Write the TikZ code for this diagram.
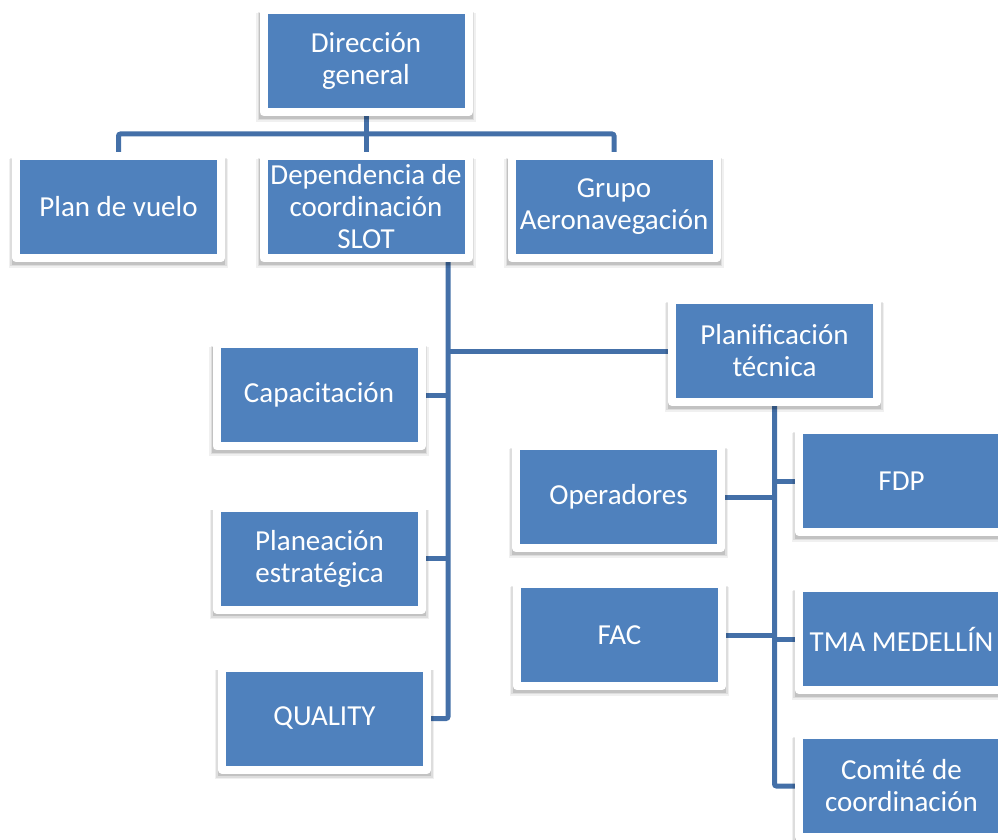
\documentclass[tikz,border=0pt]{standalone}
\usepackage{fontspec}
\setmainfont{Carlito}
\usetikzlibrary{shadows,backgrounds}

\definecolor{boxblue}{HTML}{4F81BD}
\definecolor{linkblue}{HTML}{4470A8}

\tikzset{
  unit/.style={draw=white, line width=8pt, line join=round, fill=boxblue,
    minimum width=205pt, minimum height=102pt, inner sep=0pt,
    text=white, align=center, font=\fontsize{29}{32}\selectfont,
    general shadow={shadow scale=1.07, shadow yshift=-6pt, opacity=0.06, fill=black},
    general shadow={shadow scale=1.055, shadow yshift=-5pt, opacity=0.08, fill=black},
    general shadow={shadow scale=1.04, shadow yshift=-4.5pt, opacity=0.12, fill=black}},
  link/.style={draw=linkblue, line width=5pt, rounded corners=2pt}
}

\begin{document}
\begin{tikzpicture}[x=1pt,y=-1pt]
        \useasboundingbox (0,0) rectangle (998,840);

        % top level
        \node[unit] (dir) at (366,61) {Dirección\\general};

        % second level
        \node[unit] (plan) at (118.5,207) {Plan de vuelo};
        \node[unit] (dep) at (366,207) {Dependencia de\\coordinación\\SLOT};
        \node[unit] (grp) at (614,207) {Grupo\\Aeronavegación};

        % under dependencia
        \node[unit] (plani) at (774.5,351) {Planificación\\técnica};
        \node[unit] (capa) at (319,395) {Capacitación};
        \node[unit] (plane) at (319.5,558.5) {Planeación\\estratégica};
        \node[unit] (qual) at (324.5,718.5) {QUALITY};

        % under planificacion
        \node[unit] (oper) at (618.5,497) {Operadores};
        \node[unit] (fac) at (619.5,635) {FAC};
        \node[unit] (fdp) at (901.5,481) {FDP};
        \node[unit] (tma) at (901.5,639) {TMA MEDELLÍN};
        \node[unit] (comite) at (901.5,786) {Comité de\\coordinación};

        % spines
        \coordinate (topbus) at (366,134);
        \coordinate (spine1) at (448,0);

        \begin{pgfonlayer}{background}
        % top lines
        \draw[link] (dir.south) -- (dep.north);
        \draw[link] (plan.north) |- (topbus) -| (grp.north);

        % dependencia lines
        \draw[link] (dep.south -| spine1) |- (qual.east);
        \draw[link] (spine1 |- capa) -- (capa.east);
        \draw[link] (spine1 |- plane) -- (plane.east);
        \draw[link] (spine1 |- plani) -- (plani.west);

        % planificacion lines
        \draw[link] (plani.south) |- (comite.west);
        \draw[link] (plani.south |- oper) -- (oper.east);
        \draw[link] (plani.south |- fac) -- (fac.east);
        \draw[link] (plani.south |- fdp) -- (fdp.west);
        \draw[link] (plani.south |- tma) -- (tma.west);
        \end{pgfonlayer}
\end{tikzpicture}
\end{document}
